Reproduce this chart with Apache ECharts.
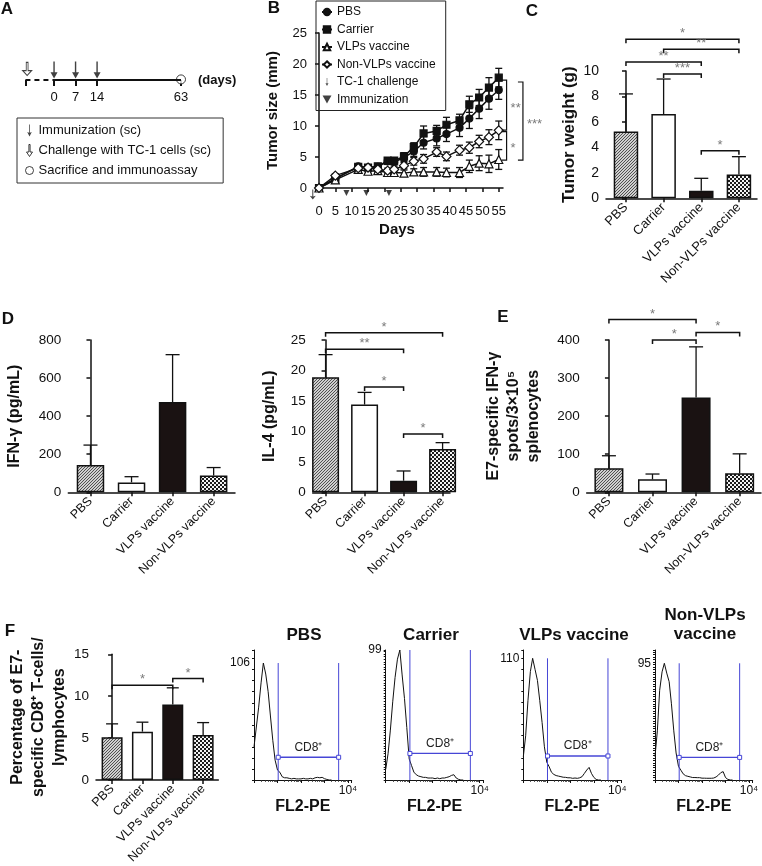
<!DOCTYPE html>
<html><head><meta charset="utf-8">
<script src="https://cdn.jsdelivr.net/npm/echarts@6/dist/echarts.min.js"></script>
<style>html,body{margin:0;padding:0;background:#fff}#c{width:762px;height:866px}</style>
</head><body><div id="c"></div>
<script>
const FONT = 'Liberation Sans, Arial, Helvetica, sans-serif';
const INK = '#111';
// ---------------- DATA ----------------
const groups = ['PBS', 'Carrier', 'VLPs vaccine', 'Non-VLPs vaccine'];
// Panel A (schematic timeline, not to scale)
const timelineDays = [0, 7, 14, 63];
const timelinePos = [0, 1, 2, 5.9];
const timelineStart = -1.33;
const immunizationDaysA = [0, 7, 14];
const challengePosA = -1.25;
// Panel B
const daysB = [0, 5, 12, 15, 18, 21, 23, 26, 29, 32, 36, 39, 43, 46, 49, 52, 55];
const pbsB = [0, 1.5, 3.5, 3.3, 3.4, 4.3, 4.2, 4.9, 5.9, 7.3, 8.0, 8.7, 9.7, 11.2, 12.8, 14.4, 15.8];
const pbsBErr = [0, 0.3, 0.3, 0.3, 0.3, 0.5, 0.5, 0.6, 0.8, 1.0, 1.2, 1.2, 1.4, 1.6, 1.6, 1.7, 1.5];
const carrierB = [0, 1.5, 3.4, 3.3, 3.5, 4.4, 4.4, 5.1, 6.6, 8.8, 9.2, 10.2, 10.9, 13.5, 14.6, 16.2, 17.8];
const carrierBErr = [0, 0.3, 0.3, 0.3, 0.3, 0.5, 0.5, 0.6, 0.7, 1.2, 0.9, 1.2, 1.0, 1.3, 1.3, 1.6, 1.5];
const vlpB = [0, 1.3, 3.0, 2.7, 2.8, 2.5, 2.5, 2.4, 2.6, 2.6, 2.6, 2.5, 2.5, 3.5, 4.0, 3.9, 4.6];
const vlpBErr = [0, 0.3, 0.3, 0.3, 0.3, 0.4, 0.4, 0.5, 0.5, 0.7, 0.7, 0.7, 0.8, 1.0, 1.2, 1.4, 1.6];
const nonVlpB = [0, 2.0, 3.2, 3.3, 3.0, 2.8, 3.0, 3.6, 4.3, 4.7, 5.8, 5.1, 6.1, 6.5, 7.5, 8.2, 9.3];
const nonVlpBErr = [0, 0.3, 0.3, 0.3, 0.3, 0.4, 0.4, 0.5, 0.6, 0.7, 0.7, 0.7, 0.8, 0.9, 1.0, 1.2, 1.5];
const immunizationDaysB = [8.4, 14.5, 21.4];
const challengeDayB = -1.9;
const sigBDay = [57.4, 57.4, 62.4];
const sigBFrom = [17.4, 9.1, 17.1];
const sigBTo = [9.35, 4.5, 4.5];
const sigBStars = ['**', '*', '***'];
// Panel C
const tumorWeight = [5.24, 6.62, 0.6, 1.86];
const tumorWeightErr = [2.96, 2.75, 0.97, 1.41];
const sigC = [[0, 3, 12.5], [1, 3, 11.7], [0, 2, 10.7], [1, 2, 9.76], [2, 3, 3.74]];
const sigCStars = ['*', '**', '**', '***', '*'];
// Panel D
const ifng = [143, 52, 474, 88];
const ifngErr = [105, 30, 249, 42];
const il4 = [18.9, 14.4, 1.9, 7.1];
const il4Err = [3.7, 2.0, 1.6, 1.05];
const sigD = [[0, 3, 26.2], [0, 2, 23.5], [1, 2, 17.3], [2, 3, 9.57]];
const sigDStars = ['*', '**', '*', '*'];
// Panel E
const spots = [63, 34, 249, 50];
const spotsErr = [33, 14, 133, 51];
const sigE = [[0, 2, 454], [1, 2, 400], [2, 3, 420]];
const sigEStars = ['*', '*', '*'];
// Panel F
const cd8 = [5.1, 5.77, 9.0, 5.37];
const cd8Err = [1.6, 1.13, 2.0, 1.48];
const sigF = [[0, 2, 11.3], [2, 3, 12.1]];
const sigFStars = ['*', '*'];
// Histograms (FL2-PE channel vs count)
const histX = [1, 1.26, 1.58, 2, 2.5, 3.16, 4, 5, 6.3, 7.9, 10, 12.6, 15.8, 20, 25, 31.6, 40, 50, 63, 79, 100, 126, 158, 200, 251, 316, 398, 501, 631, 794, 1000, 1259, 1585, 1995];
const histPBS = [30, 48, 66, 88, 106, 96, 80, 58, 36, 18, 9, 7, 3, 2, 2, 1.5, 1, 1.5, 1, 1, 1, 1.5, 1, 1, 1.5, 1, 2, 2.4, 2, 2.4, 1.2, 0.5, 0, 0];
const histCarrier = [8, 20, 38, 60, 78, 92, 99, 80, 62, 40, 16, 11, 6, 4, 3, 2.5, 2, 2, 1.5, 1.5, 1.5, 1, 1.5, 1, 1.5, 1.5, 2, 2.5, 3.5, 4, 1.5, 0.5, 0, 0];
const histVLP = [21, 40, 72, 98, 110, 100, 90, 72, 52, 30, 16, 12, 7, 5, 4, 3.5, 3, 2.5, 2.4, 2, 2, 1.5, 1.8, 1.5, 2, 3, 6, 9, 11.4, 6, 2.4, 0.5, 0, 0];
const histNonVLP = [19, 40, 73, 88, 95, 87, 80, 62, 40, 22, 11, 8, 5, 3.5, 3, 2.5, 2, 2, 1.9, 1.9, 1.5, 1.5, 1.4, 1.4, 1.4, 1.6, 2.5, 4, 6, 6.8, 2, 0.5, 0, 0];
const histPeak = [106, 99, 110, 95];
const gateLow = 10.7, gateHigh = 4000;
const gateBarCount = [20.6, 20.2, 21.7, 18.4];

// ---------------- helpers ----------------
function pattern(kind) {
  const c = document.createElement('canvas');
  const ctx = c.getContext('2d');
  if (kind === 'hatch') {
    c.width = c.height = 3;
    ctx.fillStyle = '#cfcfcf'; ctx.fillRect(0, 0, 3, 3);
    ctx.fillStyle = '#505050';
    for (let i = 0; i < 3; i++) ctx.fillRect(i, 2 - i, 1, 1);
  } else {
    c.width = c.height = 4;
    ctx.fillStyle = '#f4f4f4'; ctx.fillRect(0, 0, 4, 4);
    ctx.fillStyle = '#1c1c1c';
    ctx.fillRect(0, 0, 2, 2); ctx.fillRect(2, 2, 2, 2);
  }
  return { image: c, repeat: 'repeat' };
}
const fills = [pattern('hatch'), '#ffffff', '#1a1212', pattern('check')];

function errRender(half, both) {
  return function (params, api) {
    const x = api.value(0), lo = api.value(1), hi = api.value(2);
    const a = api.coord([x, lo]), b = api.coord([x, hi]);
    const st = { stroke: INK, lineWidth: 1.3 };
    const ch = [
      { type: 'line', shape: { x1: a[0], y1: a[1], x2: b[0], y2: b[1] }, style: st },
      { type: 'line', shape: { x1: b[0] - half, y1: b[1], x2: b[0] + half, y2: b[1] }, style: st }
    ];
    if (both) ch.push({ type: 'line', shape: { x1: a[0] - half, y1: a[1], x2: a[0] + half, y2: a[1] }, style: st });
    return { type: 'group', children: ch };
  };
}
function sigRender(stars) {
  return function (params, api) {
    const x1 = api.value(0), x2 = api.value(1), y = api.value(2);
    const p1 = api.coord([x1, y]), p2 = api.coord([x2, y]);
    return { type: 'group', children: [
      { type: 'polyline', shape: { points: [[p1[0], p1[1] + 4], [p1[0], p1[1]], [p2[0], p2[1]], [p2[0], p2[1] + 4]] },
        style: { stroke: INK, fill: 'none', lineWidth: 1.5 } },
      { type: 'text', style: { x: (p1[0] + p2[0]) / 2, y: p1[1] + 1, text: stars[params.dataIndex], align: 'center', verticalAlign: 'bottom', fill: '#7a7a7a', font: '13px ' + FONT } }
    ] };
  };
}
function vsigRender(stars) {
  return function (params, api) {
    const x = api.value(0), y1 = api.value(1), y2 = api.value(2);
    const p1 = api.coord([x, y1]), p2 = api.coord([x, y2]);
    return { type: 'group', children: [
      { type: 'polyline', shape: { points: [[p1[0] - 5, p1[1]], [p1[0], p1[1]], [p2[0], p2[1]], [p2[0] - 5, p2[1]]] },
        style: { stroke: INK, fill: 'none', lineWidth: 1.2 } },
      { type: 'text', style: { x: p1[0] + 4, y: (p1[1] + p2[1]) / 2 + 3, text: stars[params.dataIndex], align: 'left', verticalAlign: 'middle', fill: '#7a7a7a', font: '13px ' + FONT } }
    ] };
  };
}
function gateRender(k) {
  return function (params, api) {
    const lo = api.value(0), hi = api.value(1), top = api.value(2), by = api.value(3);
    const a0 = api.coord([lo, 0]), a1 = api.coord([lo, top]);
    const b0 = api.coord([hi, 0]), b1 = api.coord([hi, top]);
    const h1 = api.coord([lo, by]), h2 = api.coord([hi, by]);
    const st = { stroke: '#4646d6', lineWidth: 1 };
    return { type: 'group', children: [
      { type: 'line', shape: { x1: a0[0], y1: a0[1], x2: a1[0], y2: a1[1] }, style: st },
      { type: 'line', shape: { x1: b0[0], y1: b0[1], x2: b1[0], y2: b1[1] }, style: st },
      { type: 'line', shape: { x1: h1[0], y1: h1[1], x2: h2[0], y2: h2[1] }, style: { stroke: '#4646d6', lineWidth: 1.3 } },
      { type: 'rect', shape: { x: h1[0] - 2, y: h1[1] - 2, width: 4, height: 4 }, style: { stroke: '#4646d6', fill: '#fff', lineWidth: 1 } },
      { type: 'rect', shape: { x: h2[0] - 2, y: h2[1] - 2, width: 4, height: 4 }, style: { stroke: '#4646d6', fill: '#fff', lineWidth: 1 } },
      { type: 'text', style: { x: (h1[0] + h2[0]) / 2, y: h1[1] - 4, text: 'CD8⁺', align: 'center', verticalAlign: 'bottom', fill: '#222', font: '12px ' + FONT } }
    ] };
  };
}

const grids = [], xAxes = [], yAxes = [], series = [];
function addGrid(g) { g.containLabel = false; g.outerBoundsMode = 'none'; grids.push(g); return grids.length - 1; }
const axisLineSt = { show: true, lineStyle: { color: INK, width: 1.5 } };
const tickSt = { show: true, length: 4, lineStyle: { color: INK, width: 1.5 } };

function barPanel(cfg) {
  const gi = addGrid({ left: cfg.left, top: cfg.top, width: cfg.width, height: cfg.height });
  xAxes.push({ type: 'value', gridIndex: gi, min: cfg.xmin, max: cfg.xmax, axisLine: axisLineSt,
    axisTick: Object.assign({ customValues: [0, 1, 2, 3] }, tickSt), splitLine: { show: false },
    axisLabel: { customValues: [0, 1, 2, 3], formatter: v => groups[Math.round(v)], rotate: 45, fontSize: cfg.xFont || 12.5, color: INK, margin: 7, fontFamily: FONT } });
  yAxes.push({ type: 'value', gridIndex: gi, min: 0, max: cfg.ymax, interval: cfg.yint, axisLine: axisLineSt, axisTick: tickSt,
    splitLine: { show: false }, axisLabel: { fontSize: cfg.yFont || 13.5, color: INK, margin: 7, fontFamily: FONT },
    name: cfg.name, nameLocation: 'middle', nameGap: cfg.nameGap,
    nameTextStyle: { fontWeight: 'bold', fontSize: cfg.nameSize || 16, color: INK, fontFamily: FONT, lineHeight: cfg.nameLH || 20 } });
  series.push({ type: 'bar', xAxisIndex: gi, yAxisIndex: gi, barWidth: cfg.barWidth, silent: true,
    data: cfg.values.map((v, i) => ({ value: [i, v], itemStyle: { color: fills[i], borderColor: INK, borderWidth: 1.5 } })) });
  series.push({ type: 'custom', xAxisIndex: gi, yAxisIndex: gi, renderItem: errRender(cfg.cap || 7, false), silent: true, z: 3,
    data: cfg.values.map((v, i) => [i, v, v + cfg.errs[i]]) });
  if (cfg.sig) series.push({ type: 'custom', xAxisIndex: gi, yAxisIndex: gi, renderItem: sigRender(cfg.stars), clip: false, silent: true, z: 4, data: cfg.sig });
}

// ---------- Panel A ----------
const arrowPath = 'path://M3.2,0 L4.8,0 L4.8,10 L8,10 L4,16 L0,10 L3.2,10 Z';
const thinArrow = 'path://M3.5,0 L4.5,0 L4.5,11 L7,10 L4,16 L1,10 L3.5,11 Z';
const downTri = 'path://M0,0 L10,0 L5,9 Z';
const gA = addGrid({ left: 25, top: 50, width: 156, height: 30 });
xAxes.push({ type: 'value', gridIndex: gA, min: -1.35, max: 5.9, axisLine: { show: false }, splitLine: { show: false },
  axisTick: { show: true, customValues: [timelineStart].concat(timelinePos), length: 6, lineStyle: { color: INK, width: 2 } },
  axisLabel: { customValues: timelinePos, formatter: v => String(timelineDays[timelinePos.indexOf(v)]), fontSize: 13, color: INK, margin: 11, fontFamily: FONT },
  name: '(days)', nameLocation: 'end', nameGap: 17,
  nameTextStyle: { fontWeight: 'bold', fontSize: 13, color: INK, fontFamily: FONT, padding: [37, 0, 0, 0] } });
yAxes.push({ type: 'value', gridIndex: gA, min: 0, max: 1, show: false });
series.push({ type: 'line', xAxisIndex: gA, yAxisIndex: gA, silent: true, symbol: 'none', lineStyle: { color: INK, width: 2 },
  data: [[timelinePos[0], 0], [timelinePos[3], 0]] });
series.push({ type: 'line', xAxisIndex: gA, yAxisIndex: gA, silent: true, symbol: 'none', lineStyle: { color: INK, width: 2, type: [5, 4] },
  data: [[timelineStart, 0], [timelinePos[0], 0]] });
series.push({ name: 'Immunization (sc)', type: 'scatter', xAxisIndex: gA, yAxisIndex: gA, silent: true, symbol: arrowPath, symbolSize: [7, 17],
  itemStyle: { color: INK }, data: immunizationDaysA.map(d => [timelinePos[timelineDays.indexOf(d)], 0.33]) });
series.push({ name: 'Challenge with TC-1 cells (sc)', type: 'scatter', xAxisIndex: gA, yAxisIndex: gA, silent: true, symbol: arrowPath, symbolSize: [9, 13],
  itemStyle: { color: '#fff', borderColor: INK, borderWidth: 1 }, data: [[challengePosA, 0.37]] });
series.push({ name: 'Sacrifice and immunoassay', type: 'scatter', xAxisIndex: gA, yAxisIndex: gA, silent: true, symbol: 'circle', symbolSize: 9,
  itemStyle: { color: '#fff', borderColor: INK, borderWidth: 1 }, data: [[timelinePos[3], 0.02]] });

// ---------- Panel B ----------
const gB = addGrid({ left: 319, top: 33, width: 184, height: 155 });
xAxes.push({ type: 'value', gridIndex: gB, min: 0, max: 56.3, interval: 5, offset: 11, axisLine: axisLineSt, axisTick: tickSt,
  splitLine: { show: false }, axisLabel: { fontSize: 13, color: INK, margin: 6, fontFamily: FONT },
  name: 'Days', nameLocation: 'middle', nameGap: 23, nameTextStyle: { fontWeight: 'bold', fontSize: 15, color: INK, fontFamily: FONT, padding: [0, 28, 0, 0] } });
yAxes.push({ type: 'value', gridIndex: gB, min: 0, max: 25, interval: 5, offset: 6, axisLine: axisLineSt, axisTick: tickSt,
  splitLine: { show: false }, axisLabel: { fontSize: 13, color: INK, margin: 6, fontFamily: FONT },
  name: 'Tumor size (mm)', nameLocation: 'middle', nameGap: 33, nameTextStyle: { fontWeight: 'bold', fontSize: 15, color: INK, fontFamily: FONT } });
const lineDefs = [
  ['PBS', pbsB, pbsBErr, 'circle', INK, 7],
  ['Carrier', carrierB, carrierBErr, 'rect', INK, 7],
  ['VLPs vaccine', vlpB, vlpBErr, 'triangle', '#fff', 8],
  ['Non-VLPs vaccine', nonVlpB, nonVlpBErr, 'diamond', '#fff', 9]
];
lineDefs.forEach(([name, vals, errs, sym, fill, size]) => {
  series.push({ type: 'custom', xAxisIndex: gB, yAxisIndex: gB, renderItem: errRender(3.5, true), clip: false, silent: true, z: 1,
    data: daysB.map((d, i) => [d, vals[i] - errs[i], vals[i] + errs[i]]).filter((r, i) => errs[i] > 0) });
  series.push({ name, type: 'line', xAxisIndex: gB, yAxisIndex: gB, clip: false, silent: true, z: 2,
    symbol: sym, symbolSize: size, showAllSymbol: true,
    lineStyle: { color: INK, width: 1.5 }, itemStyle: { color: fill, borderColor: INK, borderWidth: 1.2 },
    data: daysB.map((d, i) => [d, vals[i]]) });
});
series.push({ name: 'TC-1 challenge', type: 'scatter', xAxisIndex: gB, yAxisIndex: gB, clip: false, silent: true, symbol: thinArrow, symbolSize: [6, 10],
  itemStyle: { color: INK }, data: [[challengeDayB, -1.05]] });
series.push({ name: 'Immunization', type: 'scatter', xAxisIndex: gB, yAxisIndex: gB, clip: false, silent: true, symbol: downTri, symbolSize: [6, 6],
  itemStyle: { color: INK }, data: immunizationDaysB.map(d => [d, -0.8]) });
series.push({ type: 'custom', xAxisIndex: gB, yAxisIndex: gB, renderItem: vsigRender(sigBStars), clip: false, silent: true, z: 4,
  data: sigBDay.map((d, i) => [d, sigBFrom[i], sigBTo[i]]) });

// ---------- Panels C, D, E, F ----------
barPanel({ left: 606, top: 71, width: 151, height: 127.3, xmin: -0.53, xmax: 3.48, ymax: 10, yint: 2, barWidth: 24.5,
  values: tumorWeight, errs: tumorWeightErr, sig: sigC, stars: sigCStars, name: 'Tumor weight (g)', nameGap: 19, nameSize: 17, yFont: 14, xFont: 13 });
barPanel({ left: 68.3, top: 340, width: 166.7, height: 152.3, xmin: -0.54, xmax: 3.52, ymax: 800, yint: 200, barWidth: 27.5,
  values: ifng, errs: ifngErr, name: 'IFN-γ (pg/mL)', nameGap: 44, nameSize: 16 });
barPanel({ left: 312.7, top: 340, width: 137.3, height: 152.3, xmin: -0.33, xmax: 3.19, ymax: 25, yint: 5, barWidth: 27,
  values: il4, errs: il4Err, sig: sigD, stars: sigDStars, name: 'IL-4 (pg/mL)', nameGap: 33, nameSize: 16 });
barPanel({ left: 586.7, top: 340, width: 174.3, height: 152.3, xmin: -0.51, xmax: 3.49, ymax: 400, yint: 100, barWidth: 29,
  values: spots, errs: spotsErr, sig: sigE, stars: sigEStars, name: 'E7-specific IFN-γ\nspots/3×10⁵\nsplenocytes', nameGap: 43, nameSize: 16, nameLH: 20 });
barPanel({ left: 96, top: 654.3, width: 122.3, height: 125.7, xmin: -0.53, xmax: 3.5, ymax: 15, yint: 5, barWidth: 21,
  values: cd8, errs: cd8Err, sig: sigF, stars: sigFStars, name: 'Percentage of E7-\nspecific CD8⁺ T-cells/\nlymphocytes', nameGap: 20, nameSize: 16, nameLH: 21, cap: 6 });

// ---------- Histograms ----------
const histLeft = [254, 385.7, 523.3, 655];
const histMax = [117.8, 99, 117.5, 105.8];
const histTickInt = [10, 2, 10, 2];
const histData = [histPBS, histCarrier, histVLP, histNonVLP];
histLeft.forEach((L, k) => {
  const gi = addGrid({ left: L, top: 650, width: 97.7, height: 130 });
  xAxes.push({ type: 'log', logBase: 10, gridIndex: gi, min: 1, max: 14360,
    axisLine: { show: true, lineStyle: { color: INK, width: 1 } },
    axisTick: { show: true, length: 3, lineStyle: { color: INK, width: 1 } },
    minorTick: { show: true, splitNumber: 9, length: 2, lineStyle: { color: '#333', width: 0.8 } },
    splitLine: { show: false }, minorSplitLine: { show: false },
    axisLabel: { customValues: [10000], formatter: () => '10⁴', fontSize: 12, color: INK, margin: 5, fontFamily: FONT },
    name: 'FL2-PE', nameLocation: 'middle', nameGap: 19, nameTextStyle: { fontWeight: 'bold', fontSize: 16, color: INK, fontFamily: FONT } });
  yAxes.push({ type: 'value', gridIndex: gi, min: 0, max: histMax[k], interval: histTickInt[k],
    axisLine: { show: true, lineStyle: { color: INK, width: 1 } },
    axisTick: { show: true, length: 2, lineStyle: { color: INK, width: 1 } }, splitLine: { show: false },
    axisLabel: { customValues: [histPeak[k]], fontSize: 12, color: INK, margin: 4, fontFamily: FONT } });
  series.push({ type: 'line', xAxisIndex: gi, yAxisIndex: gi, symbol: 'none', silent: true, clip: false,
    lineStyle: { color: INK, width: 1 }, data: histX.map((x, i) => [x, histData[k][i]]) });
  series.push({ type: 'custom', xAxisIndex: gi, yAxisIndex: gi, renderItem: gateRender(k), clip: false, silent: true, z: 4,
    data: [[gateLow, gateHigh, histPeak[k], gateBarCount[k]]] });
});

// ---------- texts ----------
const letter = (t, x, y) => ({ type: 'text', x, y, style: { text: t, font: 'bold 17px ' + FONT, fill: INK, align: 'center', verticalAlign: 'middle' } });
const title = (t, x, y) => ({ type: 'text', x, y, style: { text: t, font: 'bold 17px ' + FONT, fill: INK, align: 'center', verticalAlign: 'middle' } });

const option = {
  animation: false,
  backgroundColor: '#fff',
  textStyle: { fontFamily: FONT },
  grid: grids, xAxis: xAxes, yAxis: yAxes,
  legend: [
    { data: ['PBS', 'Carrier', 'VLPs vaccine', 'Non-VLPs vaccine', 'TC-1 challenge', { name: 'Immunization', icon: downTri }],
      orient: 'vertical', left: 316, top: 1, itemWidth: 10, itemHeight: 8, itemGap: 5.5, selectedMode: false,
      borderColor: '#222', borderWidth: 1, padding: [5, 10, 5, 5], textStyle: { fontSize: 12, color: INK, fontFamily: FONT } },
    { data: [{ name: 'Immunization (sc)', icon: thinArrow },
             { name: 'Challenge with TC-1 cells (sc)', icon: arrowPath, itemStyle: { color: '#fff', borderColor: INK, borderWidth: 1 } },
             { name: 'Sacrifice and immunoassay', icon: 'circle', itemStyle: { color: '#fff', borderColor: INK, borderWidth: 1 } }],
      orient: 'vertical', left: 17, top: 118, itemWidth: 8, itemHeight: 12, itemGap: 7, selectedMode: false,
      borderColor: '#333', borderWidth: 1, padding: [6, 12, 6, 8], textStyle: { fontSize: 13, color: INK, fontFamily: FONT } }
  ],
  graphic: [
    letter('A', 7, 9), letter('B', 274, 8), letter('C', 532, 11), letter('D', 8, 319), letter('E', 503, 317), letter('F', 10, 631),
    title('PBS', 304, 635), title('Carrier', 431, 635), title('VLPs vaccine', 574, 635), title('Non-VLPs', 705, 615), title('vaccine', 705, 634)
  ],
  series
};
const chart = echarts.init(document.getElementById('c'), null, { renderer: 'canvas' });
chart.setOption(option);
</script></body></html>
